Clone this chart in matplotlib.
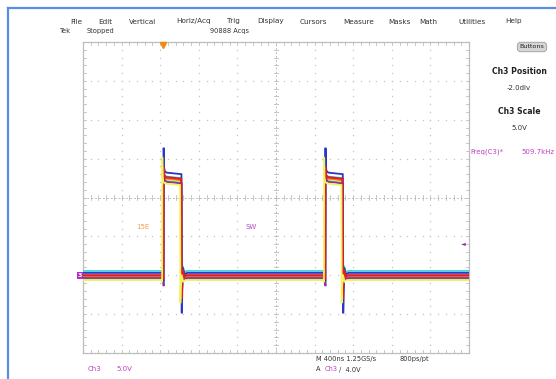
import matplotlib
matplotlib.use("Agg")
import matplotlib.pyplot as plt
from matplotlib.lines import Line2D

# ---------------- data ----------------
time_per_div_ns = 400
volts_per_div = 5.0
n_hdiv, n_vdiv = 10, 8
ch3_position_div = -2.0

rise_times_ns = [831, 2508]
fall_times_ns = [1018, 2690]

trace_colors = ['#6cc443', '#f08a30', '#40cfe0', '#8a35a8', '#2a36c8', '#e0201c', '#f2f25a']
low_levels_v = [-0.45, -0.20, 0.55, -0.35, 0.30, 0.0, -0.62]
high_levels_v = [12.0, 12.3, 12.6, 11.9, 13.1, 12.5, 11.7]
spike_peaks_v = [13.6, 13.8, 14.0, 16.3, 16.4, 13.9, 15.2]
undershoot_v = [-3.2, -2.8, -2.6, -4.9, -4.8, -3.0, -3.6]
rise_dip_v = [-0.6, -0.5, -0.4, -1.4, -0.8, -0.6, -0.9]
edge_shift_ns = [2, 1, 0, 6, 4, 1, -10]

menu_items = ["File", "Edit", "Vertical", "Horiz/Acq", "Trig", "Display", "Cursors",
              "Measure", "Masks", "Math", "Utilities", "Help"]
menu_x_px = [70, 98, 129, 176, 227, 257, 300, 343, 388, 419, 458, 505]

# ---------------- figure ----------------
W, H = 556, 379
fig = plt.figure(figsize=(W / 100, H / 100), dpi=100)
fig.patch.set_facecolor('white')

def fx(x):
    return x / W

def fy(y):
    return 1 - y / H

# blue frame of the screenshot
fig.add_artist(Line2D([fx(7.5), fx(7.5)], [fy(7.5), 0], color='#5a8ee0', lw=1.6))
fig.add_artist(Line2D([fx(7.5), 1], [fy(7.5), fy(7.5)], color='#5a8ee0', lw=1.6))

# graticule axes
g_left, g_right, g_top, g_bottom = 83, 469, 42, 353
ax = fig.add_axes([fx(g_left), fy(g_bottom), (g_right - g_left) / W, (g_bottom - g_top) / H])
t_max = time_per_div_ns * n_hdiv
v_center = -ch3_position_div * volts_per_div
v_min = v_center - volts_per_div * n_vdiv / 2
v_max = v_center + volts_per_div * n_vdiv / 2
ax.set_xlim(0, t_max)
ax.set_ylim(v_min, v_max)
ax.set_xticks([])
ax.set_yticks([])
for s in ax.spines.values():
    s.set_color('#bdbdbd')
    s.set_linewidth(0.9)

grid_c = '#c4c4c4'
tstep = time_per_div_ns / 5
vstep = volts_per_div / 5
for i in range(1, n_hdiv):
    if i == n_hdiv // 2:
        continue
    t = i * time_per_div_ns
    ys = [v_min + k * vstep for k in range(n_vdiv * 5 + 1)]
    ax.plot([t] * len(ys), ys, ls='none', marker='s', ms=0.9, color=grid_c, mew=0)
for j in range(1, n_vdiv):
    if j == n_vdiv // 2:
        continue
    v = v_min + j * volts_per_div
    xs = [k * tstep for k in range(n_hdiv * 5 + 1)]
    ax.plot(xs, [v] * len(xs), ls='none', marker='s', ms=0.9, color=grid_c, mew=0)

ax.axhline(v_center, color='#c0c0c0', lw=0.7, ls=(0, (2, 2)))
ax.axvline(t_max / 2, color='#c0c0c0', lw=0.7, ls=(0, (2, 2)))
tick_v = (v_max - v_min) / (g_bottom - g_top) * 2.2
tick_t = t_max / (g_right - g_left) * 2.2
for k in range(n_hdiv * 5 + 1):
    t = k * tstep
    ax.plot([t, t], [v_center - tick_v, v_center + tick_v], color='#bdbdbd', lw=0.6)
    ax.plot([t, t], [v_min, v_min + tick_v * 1.3], color='#bdbdbd', lw=0.6)
    ax.plot([t, t], [v_max - tick_v * 1.3, v_max], color='#bdbdbd', lw=0.6)
for k in range(n_vdiv * 5 + 1):
    v = v_min + k * vstep
    ax.plot([t_max / 2 - tick_t, t_max / 2 + tick_t], [v, v], color='#bdbdbd', lw=0.6)
    ax.plot([0, tick_t * 1.3], [v, v], color='#bdbdbd', lw=0.6)
    ax.plot([t_max - tick_t * 1.3, t_max], [v, v], color='#bdbdbd', lw=0.6)

# ---------------- waveforms ----------------
for i, col in enumerate(trace_colors):
    lo, hi = low_levels_v[i], high_levels_v[i]
    ts, vs = [0], [lo]
    sh = edge_shift_ns[i]
    for r, f in zip(rise_times_ns, fall_times_ns):
        r += sh
        f += sh
        ts += [r - 10, r - 1, r + 1, r + 4, r + 12, r + 30, f - 2, f + 1, f + 5, f + 14, f + 30, f + 55]
        vs += [lo, rise_dip_v[i], spike_peaks_v[i], hi + 0.9, hi + 0.3, hi + 0.1, hi - 0.1,
               undershoot_v[i], undershoot_v[i] * 0.4, lo + 0.7, lo - 0.2, lo]
    ts.append(t_max)
    vs.append(lo)
    lw = 1.6 if col == '#e0201c' else 1.3
    ax.plot(ts, vs, color=col, lw=lw, solid_joinstyle='miter', zorder=3 + i * 0.01)

# ---------------- markers ----------------
ax.plot([rise_times_ns[0]], [v_max - 0.4], marker='v', ms=5, color='#f08a10', clip_on=False, zorder=5)
fig.text(fx(80), fy(275.5), "3", color='white', fontsize=4.5, fontweight='bold', ha='center', va='center',
         bbox=dict(boxstyle='square,pad=0.15', fc='#b030c0', ec='none'))
fig.text(fx(463), fy(244), "\u25C4", color='#8a2aa0', fontsize=4.5, ha='center', va='center')

fig.text(fx(143), fy(227), "15E", color='#f0a050', fontsize=5, ha='center', va='center')
fig.text(fx(251), fy(227), "SW", color='#b050c8', fontsize=5, ha='center', va='center')

# ---------------- texts ----------------
txt_c = '#333333'
for name, xp in zip(menu_items, menu_x_px):
    fig.text(fx(xp), fy(21.5), name, color=txt_c, fontsize=5.2, ha='left', va='center')
fig.text(fx(60), fy(31), "Tek", color=txt_c, fontsize=4.8, ha='left', va='center')
fig.text(fx(87), fy(31), "Stopped", color=txt_c, fontsize=4.8, ha='left', va='center')
fig.text(fx(210), fy(31), "90888 Acqs", color=txt_c, fontsize=4.8, ha='left', va='center')

fig.text(fx(532), fy(47), "Buttons", color='#222222', fontsize=4.6, ha='center', va='center',
         bbox=dict(boxstyle='round,pad=0.35,rounding_size=0.6', fc='#d6d6d6', ec='#9a9a9a', lw=0.6))
fig.text(fx(519), fy(72), "Ch3 Position", color='#222222', fontsize=5.6, fontweight='bold', ha='center', va='center')
fig.text(fx(519), fy(88), "-2.0div", color=txt_c, fontsize=5, ha='center', va='center')
fig.text(fx(519), fy(112), "Ch3 Scale", color='#222222', fontsize=5.6, fontweight='bold', ha='center', va='center')
fig.text(fx(519), fy(128), "5.0V", color=txt_c, fontsize=5, ha='center', va='center')
fig.text(fx(470), fy(152), "Freq(C3)*", color='#c040c0', fontsize=5, ha='left', va='center')
fig.text(fx(555), fy(152), "509.7kHz", color='#c040c0', fontsize=5, ha='right', va='center')

fig.text(fx(88), fy(369), "Ch3", color='#c040c0', fontsize=5, ha='left', va='center')
fig.text(fx(116), fy(369), "5.0V", color='#c040c0', fontsize=5, ha='left', va='center')
fig.text(fx(316), fy(359), "M 400ns 1.25GS/s", color=txt_c, fontsize=4.8, ha='left', va='center')
fig.text(fx(400), fy(359), "800ps/pt", color=txt_c, fontsize=4.8, ha='left', va='center')
fig.text(fx(316), fy(369), "A", color=txt_c, fontsize=4.8, ha='left', va='center')
fig.text(fx(325), fy(369), "Ch3", color='#c040c0', fontsize=4.8, ha='left', va='center')
fig.text(fx(339), fy(369), "\u2215  4.0V", color=txt_c, fontsize=4.8, ha='left', va='center')

fig.savefig("out.png", dpi=100, facecolor='white')
